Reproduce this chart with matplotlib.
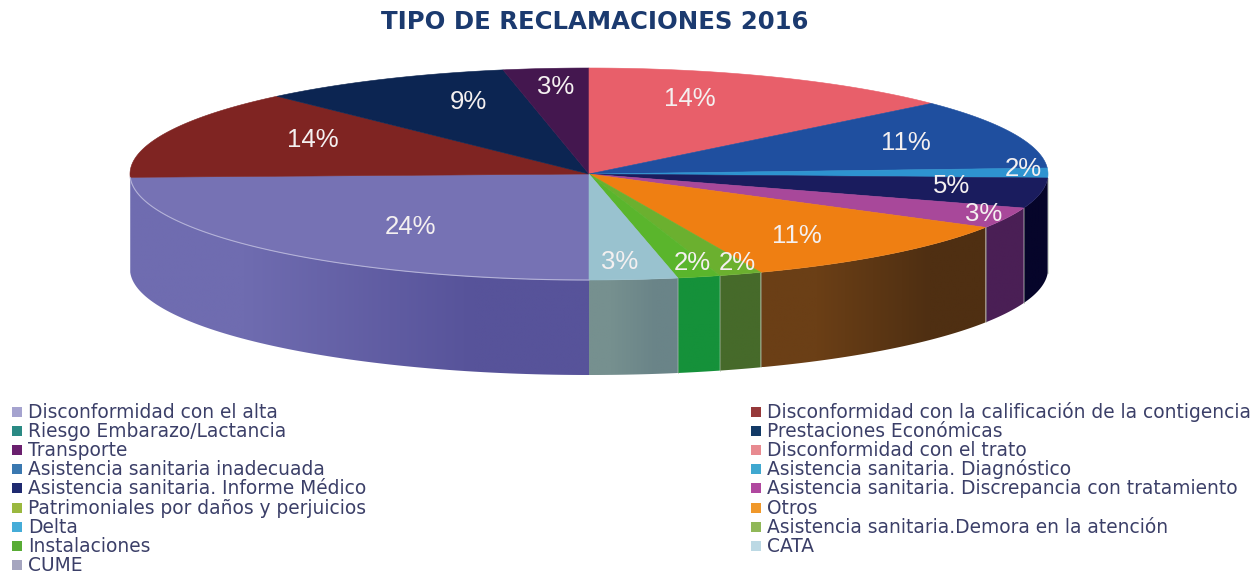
import numpy as np
import matplotlib
matplotlib.use('Agg')
import matplotlib.pyplot as plt
from matplotlib.colors import to_rgb
from matplotlib.patches import Polygon

plt.rcParams['font.family'] = ['Liberation Sans', 'DejaVu Sans']

title = 'TIPO DE RECLAMACIONES 2016'

# legend order (row by row), pie runs clockwise from the bottom in this order
categories = ['Disconformidad con el alta',
              'Disconformidad con la calificación de la contigencia',
              'Riesgo Embarazo/Lactancia',
              'Prestaciones Económicas',
              'Transporte',
              'Disconformidad con el trato',
              'Asistencia sanitaria inadecuada',
              'Asistencia sanitaria. Diagnóstico',
              'Asistencia sanitaria. Informe Médico',
              'Asistencia sanitaria. Discrepancia con tratamiento',
              'Patrimoniales por daños y perjuicios',
              'Otros',
              'Delta',
              'Asistencia sanitaria.Demora en la atención',
              'Instalaciones',
              'CATA',
              'CUME']
# drawn size of each slice
shares = [24.5, 13.6, 0, 8.9, 3.0, 13.4, 10.7, 1.5, 4.6, 3.2, 0, 10.5, 0, 1.5, 1.5, 3.1, 0]
# percentages as printed on the slices
labels = ['24%', '14%', '', '9%', '3%', '14%', '11%', '2%', '5%', '3%', '', '11%', '', '2%', '2%', '3%', '']

label_xy = [(411, 227), (313, 140), None, (468, 102), (556, 87), (690, 99), (906, 143),
            (1023, 169), (952, 186), (984, 214), None, (797, 236), None, (737, 263),
            (692, 263), (620, 262), None]

top_colors = ['#7672b4', '#7f2422', '#1f7f78', '#0c2552', '#44174f', '#e85f6a', '#1f4f9f',
              '#2e93d0', '#1a1c5e', '#a8489a', '#8fb03a', '#ef7f12', '#35a5d5', '#6bb02f',
              '#5ab52c', '#99c2cf', '#9a98b8']
side_colors = [('#6f6cb0', '#57539a'), None, None, None, None, None, None,
               ('#06052a', '#06052a'), ('#06052a', '#06052a'), ('#4a1f55', '#4a1f55'), None,
               ('#6b3f16', '#4f2f12'), None, ('#466a2a', '#466a2a'),
               ('#15913a', '#15913a'), ('#76908f', '#6a8488'), None]
legend_colors = ['#a5a3cf', '#96393a', '#2a8a84', '#123a66', '#6a1f6e', '#e88a90', '#3a78b0',
                 '#3fa8d0', '#1f2a70', '#b0489f', '#9ab83f', '#f0982a', '#45acd8', '#90b858',
                 '#58ac35', '#bcd9e4', '#a5a5bf']

cx, cy, rx, ry, depth = 589, 174, 459, 106, 95


def rim(theta):
    t = np.radians(theta)
    return cx + rx * np.sin(t), cy - ry * np.cos(t)


fig = plt.figure(figsize=(12.6, 5.73), dpi=100)
ax = fig.add_axes([0, 0, 1, 1])
ax.axis('off')

total = sum(shares)
angle = 180.0
wall_edges = []
for share, side in zip(shares, side_colors):
    if share == 0:
        continue
    end = angle + share / total * 360
    # the wall shows only on the front half, 90-270 (or 450-630 after wrapping)
    if angle < 360:
        front0, front1 = angle, min(end, 270)
    else:
        front0, front1 = max(angle, 450), min(end, 540)
    if side is not None and front1 > front0:
        th = np.linspace(front0, front1, 80)
        xs, ys = rim(th)
        pts = np.c_[np.r_[xs, xs[::-1]], np.r_[ys, ys[::-1] + depth]]
        lo, hi = xs.min(), xs.max()
        c0, c1 = to_rgb(side[0]), to_rgb(side[1])
        # left to right shading clipped to the wall outline
        shade = np.array([[c0, c1]])
        im = ax.imshow(shade, extent=(lo, hi, pts[:, 1].max(), pts[:, 1].min()),
                       aspect='auto', interpolation='bilinear', zorder=2)
        im.set_clip_path(Polygon(pts, closed=True, transform=ax.transData))
        wall_edges.append(front0)
    angle = end

ax.set_xlim(0, 1260)
ax.set_ylim(573, 0)

# top faces
angle = 180.0
for share, top in zip(shares, top_colors):
    if share == 0:
        continue
    end = angle + share / total * 360
    th = np.linspace(angle, end, 120)
    xs, ys = rim(th)
    ax.fill(np.r_[cx, xs], np.r_[cy, ys], color=top, lw=0.4, zorder=3)
    angle = end

# pale rim along the front edge and between wall segments
th = np.linspace(180, 268, 120)
ax.plot(*rim(th), color='#b4b2d8', lw=0.8, zorder=4)
for theta in wall_edges:
    if 450 < theta < 540:
        x0, y0 = rim(theta)
        ax.plot([x0, x0], [y0, y0 + depth], color='#9fb09a', lw=0.6, alpha=0.55, zorder=4)

for lab, xy in zip(labels, label_xy):
    if lab:
        ax.text(xy[0], xy[1], lab, color='#f4f0f0', fontsize=18.5, ha='center', va='center', zorder=5)

ax.text(595, 22, title, color='#1b3a6f', fontsize=17.6, fontweight='bold',
        family=['DejaVu Sans'], ha='center', va='center')

# legend in two columns, filled row by row
row_y = 412
for i, (name, col) in enumerate(zip(categories, legend_colors)):
    row = i // 2
    x_txt = 767 if i % 2 else 28
    y = row_y + row * 19.1
    ax.scatter(x_txt - 11, y, marker='s', s=42, color=col, linewidths=0, zorder=3)
    ax.text(x_txt, y + 6, name, color='#3b3f68', fontsize=13.45, family=['DejaVu Sans'],
            ha='left', va='baseline')

fig.savefig('out.png', dpi=100)
